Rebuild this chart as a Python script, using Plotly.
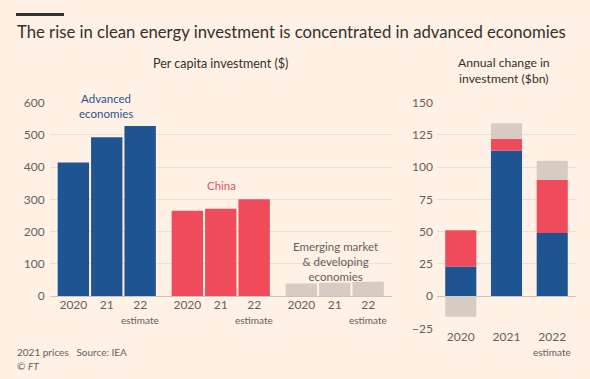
import plotly.graph_objects as go

# ---- data ----
years = ["2020", "21", "22"]
advanced = [414, 493, 528]
china = [265, 271, 300]
emerging = [39, 41, 44]

change_years = ["2020", "2021", "2022"]
chg_advanced = [23, 113, 49]
chg_china = [28, 9, 41]
chg_emerging = [-16, 12, 15]

estimate_note = "estimate"

# ---- style ----
W, H = 590, 379
BG = "#fff1e5"
BLUE = "#1f5493"
RED = "#ef4b5b"
GREY = "#d6ccc3"
TXT = "#33302e"
TICK = "#66605c"
GRID = "#ebded3"
ZERO = "#cfc2b7"
FONT = "Lato"

def px(x):
    return x / W

def py(y):
    return 1 - y / H

fig = go.Figure()

left_w = 0.94
fig.add_trace(go.Bar(x=years, y=advanced, marker_color=BLUE, marker_line_width=0, width=left_w, xaxis="x", yaxis="y"))
fig.add_trace(go.Bar(x=years, y=china, marker_color=RED, marker_line_width=0, width=left_w, xaxis="x2", yaxis="y"))
fig.add_trace(go.Bar(x=years, y=emerging, marker_color=GREY, marker_line_width=0, width=left_w, xaxis="x3", yaxis="y"))

right_w = 0.68
fig.add_trace(go.Bar(x=change_years, y=chg_advanced, marker_color=BLUE, marker_line_width=0, width=right_w, xaxis="x4", yaxis="y2"))
fig.add_trace(go.Bar(x=change_years, y=chg_china, marker_color=RED, marker_line_width=0, width=right_w, xaxis="x4", yaxis="y2"))
fig.add_trace(go.Bar(x=change_years, y=chg_emerging, marker_color=GREY, marker_line_width=0, width=right_w, xaxis="x4", yaxis="y2"))

xcommon = dict(type="category", showgrid=False, zeroline=False, showline=False, ticks="",
               automargin=False, ticklabelstandoff=0,
               tickfont=dict(family=FONT, size=12, color=TICK), fixedrange=True)
ycommon = dict(showgrid=True, gridcolor=GRID, gridwidth=1, zeroline=True, zerolinecolor=ZERO,
               zerolinewidth=1, showline=False, ticks="", automargin=False,
               tickfont=dict(family=FONT, size=12, color=TICK), fixedrange=True)

fig.update_layout(
    template="none",
    width=W, height=H, autosize=False,
    paper_bgcolor=BG, plot_bgcolor=BG,
    margin=dict(l=0, r=0, t=0, b=0, pad=0, autoexpand=False),
    showlegend=False,
    barmode="relative",
    hovermode=False,
    font=dict(family=FONT, color=TXT),
    xaxis=dict(domain=[px(49.75), px(163.75)], range=[-0.707, 2.707], anchor="y",
               categoryarray=years, **xcommon),
    xaxis2=dict(domain=[px(163.75), px(277.75)], range=[-0.707, 2.707], anchor="y",
                categoryarray=years, **xcommon),
    xaxis3=dict(domain=[px(277.75), px(391.75)], range=[-0.707, 2.707], anchor="y",
                categoryarray=years, **xcommon),
    xaxis4=dict(domain=[px(437), px(576)], range=[-0.52, 2.52], anchor="y2",
                categoryarray=change_years, **xcommon),
    yaxis=dict(domain=[py(296), py(102.7)], range=[0, 600], dtick=100, anchor="x",
               ticklabelstandoff=4, **ycommon),
    yaxis2=dict(domain=[py(328.3), py(102.7)], range=[-25, 150], dtick=25, anchor="x4",
                ticklabelstandoff=3, **ycommon),
)

fig.add_shape(type="line", xref="paper", yref="paper", x0=px(16), x1=px(64), y0=py(14.5), y1=py(14.5),
              line=dict(color=TXT, width=3))

def ann(text, x, y, size, color=TXT, xanchor="center", xref="paper", **kw):
    xv = px(x) if xref == "paper" else x
    fig.add_annotation(text=text, x=xv, y=py(y), xref=xref, yref="paper", showarrow=False,
                       xanchor=xanchor, yanchor="middle", font=dict(family=FONT, size=size, color=color), **kw)

ann("The rise in clean energy investment is concentrated in advanced economies", 15, 32, 16.7, xanchor="left")
ann("Per capita investment ($)", 220, 63, 12.5)
ann("Annual change in<br>investment ($bn)", 504, 70.5, 12.2)
ann("Advanced<br>economies", 106, 106, 11.5, color=BLUE)
ann("China", 221, 185, 11.5, color=RED)
ann("Emerging market<br>& developing<br>economies", 335, 261, 11.5, color=TICK)
# "estimate" sits under the last category of each axis (category index)
for xr in ["x", "x2", "x3"]:
    ann(estimate_note, len(years) - 1, 319.5, 10, color=TICK, xref=xr)
ann(estimate_note, len(change_years) - 1, 351.5, 10, color=TICK, xref="x4")
ann("2021 prices   Source: IEA", 15, 352, 10, color=TICK, xanchor="left")
ann("© <i>FT</i>", 15, 366, 10, color=TICK, xanchor="left")

fig.write_html("out.html", config={"displayModeBar": False, "responsive": False},
               post_script="document.documentElement.style.margin='0';document.body.style.margin='0';"
                           "document.body.style.padding='0';document.body.style.overflow='hidden';"
                           "document.body.style.background='" + BG + "';")
